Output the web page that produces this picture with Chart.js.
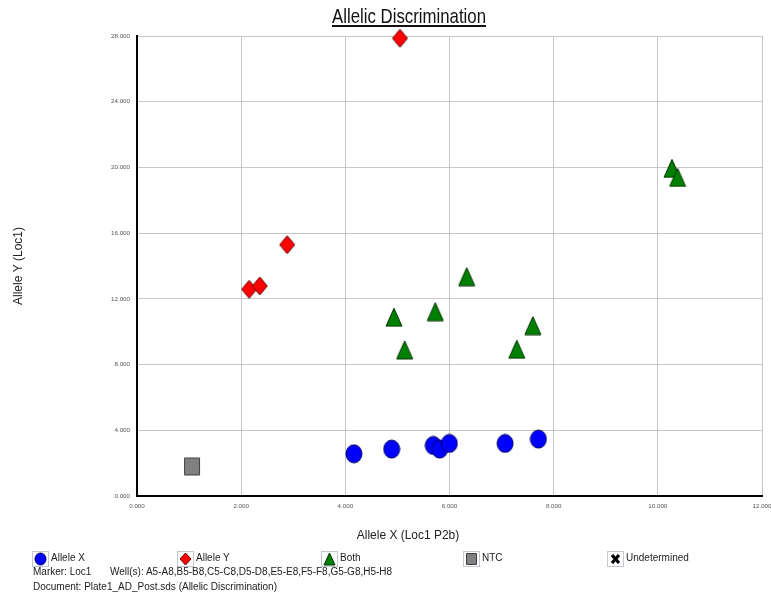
<!DOCTYPE html>
<html>
<head>
<meta charset="utf-8">
<script src="https://cdn.jsdelivr.net/npm/chart.js"></script>
<style>
body{margin:0;background:#fff;font-family:'Liberation Sans',Arial,sans-serif;}
#wrap{position:relative;width:771px;height:598px;overflow:hidden;}
#adChart{position:absolute;left:0;top:0;}
.txt{position:absolute;white-space:nowrap;color:#222;font-size:10px;line-height:10px;}
#title{left:409px;top:5px;font-size:21px;line-height:21px;color:#111;text-decoration:underline;text-decoration-thickness:1.5px;text-underline-offset:2px;transform:translateX(-50%) scaleX(0.8);}
#xtitle{left:408px;top:528px;font-size:13px;line-height:13px;transform:translateX(-50%) scaleX(0.92);}
.ico{position:absolute;top:551px;width:15px;height:14px;border:1px solid #c4c8d0;background:#fff;}
.ico canvas{position:absolute;left:1px;top:0px;}
</style>
</head>
<body>
<div id="wrap">
<canvas id="adChart" width="771" height="598"></canvas>
<div class="txt" id="title">Allelic Discrimination</div>
<div class="txt" id="xtitle">Allele X (Loc1 P2b)</div>
<div id="legend"></div>
<div class="txt" style="left:33px;top:567px;">Marker: Loc1</div>
<div class="txt" style="left:110px;top:567px;">Well(s): A5-A8,B5-B8,C5-C8,D5-D8,E5-E8,F5-F8,G5-G8,H5-H8</div>
<div class="txt" style="left:33px;top:582px;">Document: Plate1_AD_Post.sds (Allelic Discrimination)</div>
</div>

<script>
// values (Allele X signal, Allele Y signal)
var alleleX_x = [4165, 4889, 5689, 5812, 5997, 7067, 7707];
var alleleX_y = [2571, 2857, 3076, 2857, 3198, 3198, 3465];

var alleleY_x = [2153, 2358, 2883, 5049];
var alleleY_y = [12584, 12784, 15295, 27860];

var both_x = [4934, 5727, 5139, 6331, 7600, 7292, 10271, 10379];
var both_y = [10881, 11222, 8894, 13350, 10371, 8936, 19939, 19392];

var ntc_x = [1057];
var ntc_y = [1799];

var undet_x = [];
var undet_y = [];

var seriesNames = ["Allele X", "Allele Y", "Both", "NTC", "Undetermined"];
var seriesShapes = ["circle", "diamond", "triangle", "square", "cross"];
var seriesFill = ["#0000ff", "#ff0000", "#008000", "#808080", "#000000"];
var seriesLine = ["#000060", "#600000", "#003000", "#404040", "#000000"];
var legendLeft = [32, 177, 321, 463, 607];

var xTicks = [0, 2000, 4000, 6000, 8000, 10000, 12000];
var yTicks = [0, 4000, 8000, 12000, 16000, 20000, 24000, 28000];


function make_marker(shape, w, h, fill, line){
    var c = document.createElement("canvas");
    c.width = w + 2;
    c.height = h + 2;
    var ctx = c.getContext("2d");
    var cx = c.width / 2, cy = c.height / 2;
    ctx.fillStyle = fill;
    ctx.strokeStyle = line;
    ctx.lineWidth = 1;
    ctx.beginPath();
    if (shape == "circle") {
        ctx.ellipse(cx, cy, w / 2, h / 2, 0, 0, Math.PI * 2);
    } else if (shape == "diamond") {
        ctx.moveTo(cx, 1); ctx.lineTo(w + 1, cy); ctx.lineTo(cx, h + 1); ctx.lineTo(1, cy);
        ctx.closePath();
    } else if (shape == "triangle") {
        ctx.moveTo(cx, 1); ctx.lineTo(w + 1, h + 1); ctx.lineTo(1, h + 1);
        ctx.closePath();
    } else if (shape == "square") {
        ctx.rect(1.5, 1.5, w - 1, h - 1);
    } else {
        // bold X
        ctx.lineWidth = 3.2;
        ctx.lineCap = "butt";
        ctx.moveTo(3, 3); ctx.lineTo(w - 1, h - 1);
        ctx.moveTo(w - 1, 3); ctx.lineTo(3, h - 1);
        ctx.stroke();
        return c;
    }
    ctx.fill();
    ctx.stroke();
    return c;
}//make_marker


function to_points(xs, ys){
    var pts = [];
    for (var i = 0; i < xs.length; i++) pts.push({x: xs[i], y: ys[i]});
    return pts;
}


function build_legend(){
    var leg = document.getElementById("legend");
    for (var i = 0; i < seriesNames.length; i++) {
        var box = document.createElement("div");
        box.className = "ico";
        box.style.left = legendLeft[i] + "px";
        box.appendChild(make_marker(seriesShapes[i], 11, 12, seriesFill[i], seriesLine[i]));
        leg.appendChild(box);

        var t = document.createElement("div");
        t.className = "txt";
        t.style.left = (legendLeft[i] + 19) + "px";
        t.style.top = "553px";
        t.textContent = seriesNames[i];
        leg.appendChild(t);
    }
}//build_legend


function get_ad_chart(){
    var xs = [alleleX_x, alleleY_x, both_x, ntc_x, undet_x];
    var ys = [alleleX_y, alleleY_y, both_y, ntc_y, undet_y];
    var sizes = [[16, 18], [15, 18], [16, 18], [16, 18], [14, 14]];
    var datasets = [];
    for (var i = 0; i < seriesNames.length; i++) {
        datasets.push({
            label: seriesNames[i],
            data: to_points(xs[i], ys[i]),
            pointStyle: make_marker(seriesShapes[i], sizes[i][0], sizes[i][1], seriesFill[i], seriesLine[i]),
            pointRadius: 9,
            clip: false
        });
    }

    var fmt = function(v){ return (v / 1000).toFixed(3); };

    new Chart("adChart", {
        type: "scatter",
        data: {datasets: datasets},
        options: {
            responsive: false,
            animation: false,
            events: [],
            layout: {autoPadding: false, padding: {left: 0, right: 9, top: 36, bottom: 80}},
            plugins: {legend: {display: false}, tooltip: {enabled: false}},
            scales: {
                x: {
                    type: "linear", min: 0, max: 12000,
                    afterBuildTicks: function(s){ s.ticks = xTicks.map(function(v){ return {value: v}; }); },
                    afterFit: function(s){ s.height = 22; s.paddingLeft = 0; s.paddingRight = 0; },
                    ticks: {callback: fmt, font: {size: 6.2, family: "'Liberation Sans', Arial"}, color: "#555", padding: 7, maxRotation: 0},
                    grid: {color: "#c6c6c6", drawTicks: false},
                    border: {color: "#000", width: 2}
                },
                y: {
                    type: "linear", min: 0, max: 28000,
                    afterBuildTicks: function(s){ s.ticks = yTicks.map(function(v){ return {value: v}; }); },
                    afterFit: function(s){ s.width = 137; s.paddingTop = 0; s.paddingBottom = 0; },
                    ticks: {callback: fmt, font: {size: 6.2, family: "'Liberation Sans', Arial"}, color: "#555", padding: 7},
                    grid: {color: "#c6c6c6", drawTicks: false},
                    border: {color: "#000", width: 2},
                    title: {display: true, text: "Allele Y (Loc1)", color: "#222", font: {size: 12, family: "'Liberation Sans', Arial"}, padding: {top: 11, bottom: 0}}
                }
            }
        }
    });
}//get_ad_chart


build_legend();
get_ad_chart();
</script>
</body>
</html>
